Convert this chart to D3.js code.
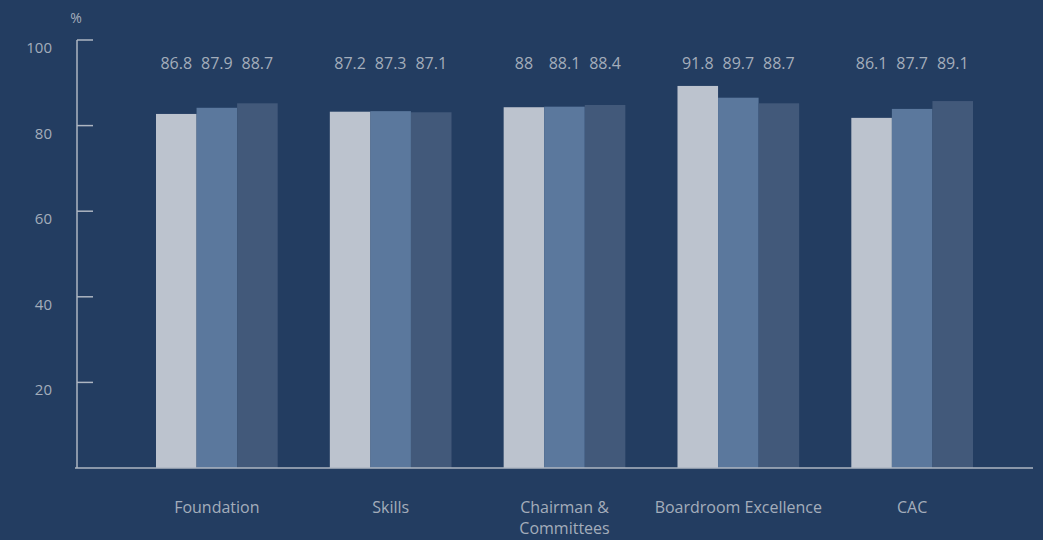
<!DOCTYPE html>
<html lang="en">
<head>
	<meta charset="utf-8"/>
	<title>Scores by section</title>
	<script src="https://d3js.org/d3.v7.min.js" charset="utf-8"></script>
	<style>
		html, body {
			margin: 0;
			padding: 0;
			background: #233d61;
		}
		svg {
			display: block;
			font-family: 'Open Sans', sans-serif;
		}
		.axis-line {
			stroke: #aeb6c2;
			stroke-width: 1.5px;
		}
		.tick-label, .cat-label, .value-label, .unit {
			fill: #a3adbb;
		}
	</style>
</head>
<body>
<div id="chart"></div>

<script>
	// data
	var categories = ["Foundation", "Skills", "Chairman &\nCommittees", "Boardroom Excellence", "CAC"];
	var series1 = [86.8, 87.2, 88, 91.8, 86.1];
	var series2 = [87.9, 87.3, 88.1, 89.7, 87.7];
	var series3 = [88.7, 87.1, 88.4, 88.7, 89.1];
	var yTicks = [20, 40, 60, 80, 100];
	var seriesNames = ["s1", "s2", "s3"];

	var width = 1043,
		height = 540;

	var m = {top: 40, right: 10, bottom: 72, left: 77};
	var plotBottom = height - m.bottom,
		plotRight = width - m.right;

	var svg = d3.select("#chart").append("svg")
		.attr("width", width)
		.attr("height", height);

	svg.append("rect")
		.attr("width", width)
		.attr("height", height)
		.attr("fill", "#233d61");

	// axis scale (labels) and bar scale (the bars start above zero in the original)
	var y = d3.scaleLinear()
		.domain([0, 100])
		.range([plotBottom, m.top]);

	var barBase = 23.6;
	var yBar = d3.scaleLinear()
		.domain([barBase, 100])
		.range([plotBottom, m.top]);

	var x0 = d3.scaleBand()
		.domain(categories)
		.range([156, 973])
		.paddingInner(0.3)
		.paddingOuter(0);

	var x1 = d3.scaleBand()
		.domain(seriesNames)
		.range([0, x0.bandwidth()])
		.padding(0);

	var color = d3.scaleOrdinal()
		.domain(seriesNames)
		.range(["#bcc3ce", "#5b789d", "#42597a"]);

	var rows = categories.map(function(c, i) {
		return {cat: c, values: [series1[i], series2[i], series3[i]]};
	});

	// bars
	var groups = svg.append("g")
		.selectAll("g")
		.data(rows)
		.enter().append("g")
		.attr("transform", function(d) { return "translate(" + x0(d.cat) + ",0)"; });

	groups.selectAll("rect")
		.data(function(d) { return d.values.map(function(v, j) { return {key: seriesNames[j], value: v}; }); })
		.enter().append("rect")
		.attr("x", function(d) { return x1(d.key); })
		.attr("y", function(d) { return yBar(d.value); })
		.attr("width", x1.bandwidth())
		.attr("height", function(d) { return plotBottom - yBar(d.value); })
		.attr("fill", function(d) { return color(d.key); });

	// value labels, all on one row above the bars
	groups.selectAll("text")
		.data(function(d) { return d.values.map(function(v, j) { return {key: seriesNames[j], value: v}; }); })
		.enter().append("text")
		.attr("class", "value-label")
		.attr("x", function(d) { return x1(d.key) + x1.bandwidth() / 2; })
		.attr("y", 69)
		.attr("text-anchor", "middle")
		.style("font-size", "16px")
		.text(function(d) { return d.value; });

	// y axis
	var yAxis = svg.append("g");

	yAxis.append("line")
		.attr("class", "axis-line")
		.attr("x1", m.left).attr("x2", m.left)
		.attr("y1", y(100)).attr("y2", plotBottom);

	yAxis.selectAll(".tick")
		.data(yTicks)
		.enter().append("line")
		.attr("class", "axis-line")
		.attr("x1", m.left).attr("x2", m.left + 16)
		.attr("y1", function(d) { return y(d); })
		.attr("y2", function(d) { return y(d); });

	yAxis.selectAll(".tick-label")
		.data(yTicks)
		.enter().append("text")
		.attr("class", "tick-label")
		.attr("x", 52)
		.attr("y", function(d) { return y(d) + 13; })
		.attr("text-anchor", "end")
		.style("font-size", "15px")
		.text(function(d) { return d; });

	svg.append("text")
		.attr("class", "unit")
		.attr("x", 76)
		.attr("y", 23)
		.attr("text-anchor", "middle")
		.style("font-size", "14px")
		.text("%");

	// x axis baseline
	svg.append("line")
		.attr("class", "axis-line")
		.attr("x1", m.left - 2).attr("x2", plotRight)
		.attr("y1", plotBottom).attr("y2", plotBottom);

	// category labels
	var catLabels = svg.append("g")
		.selectAll("text")
		.data(categories)
		.enter().append("text")
		.attr("class", "cat-label")
		.attr("x", function(d) { return x0(d) + x0.bandwidth() / 2; })
		.attr("y", 513)
		.attr("text-anchor", "middle")
		.style("font-size", "16px");

	catLabels.selectAll("tspan")
		.data(function(d) { return d.split("\n"); })
		.enter().append("tspan")
		.attr("x", function() { return d3.select(this.parentNode).attr("x"); })
		.attr("dy", function(d, i) { return i === 0 ? 0 : 21; })
		.text(function(d) { return d; });
</script>
</body>
</html>
